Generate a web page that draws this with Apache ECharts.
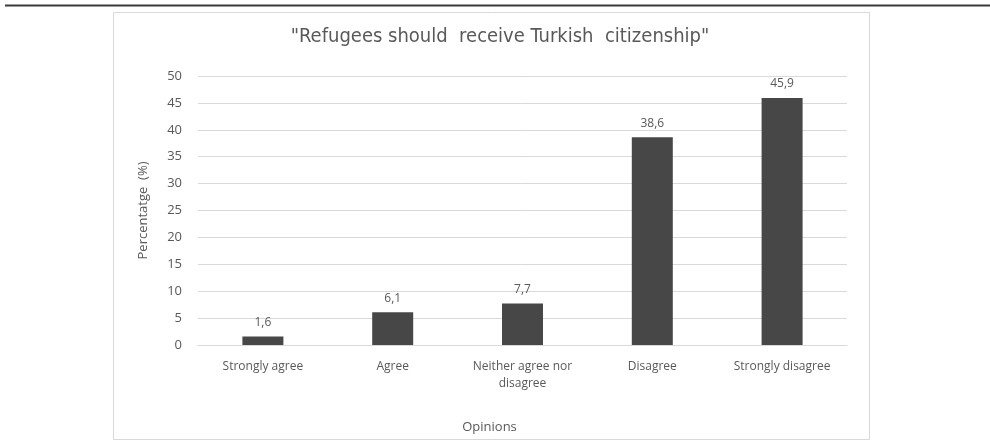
<!DOCTYPE html>
<html>
<head>
<meta charset="utf-8">
<script src="https://cdn.jsdelivr.net/npm/echarts@6/dist/echarts.min.js"></script>
<style>
  html, body { margin: 0; padding: 0; background: #fff; }
  #chart { width: 990px; height: 441px; }
</style>
</head>
<body>
<div id="chart"></div>
<script>
// 数据
const categories = ["Strongly agree", "Agree", "Neither agree nor\ndisagree", "Disagree", "Strongly disagree"];
const values = [1.6, 6.1, 7.7, 38.6, 45.9];

(function () {
	let myChart = echarts.init(document.getElementById('chart'))
	const textColor = '#595959'
	const option = {
		backgroundColor: '#fff',
		title: {
			text: '"Refugees should  receive Turkish  citizenship"',
			left: 495,
			textAlign: 'center',
			top: 22,
			textStyle: {
				fontFamily: 'DejaVu Sans Condensed',
				fontWeight: 'normal',
				fontSize: 20,
				color: textColor
			}
		},
		graphic: [
			// 顶部的黑线
			{ type: 'line', shape: { x1: 5, y1: 5.5, x2: 990, y2: 5.5 }, style: { stroke: '#3a3a3a', lineWidth: 2 } },
			// 图表外框
			{ type: 'rect', shape: { x: 113.5, y: 12.5, width: 756, height: 427 }, style: { fill: 'none', stroke: '#d9d9d9', lineWidth: 1 } }
		],
		grid: {
			left: 198,
			right: 143,
			top: 76,
			bottom: 96
		},
		xAxis: {
			type: 'category',
			data: categories,
			name: 'Opinions',
			nameLocation: 'middle',
			nameGap: 76,
			nameTextStyle: { color: textColor, fontSize: 13, fontFamily: 'Open Sans', padding: [0, 66, 0, 0] },
			axisTick: { show: false },
			axisLine: { lineStyle: { color: '#d9d9d9' } },
			axisLabel: {
				color: textColor,
				fontSize: 12,
				fontFamily: 'Open Sans',
				margin: 13,
				interval: 0,
				lineHeight: 17
			}
		},
		yAxis: {
			type: 'value',
			min: 0,
			max: 50,
			interval: 5,
			name: 'Percentatge  (%)',
			nameLocation: 'middle',
			nameGap: 48,
			nameTextStyle: { color: textColor, fontSize: 13, fontFamily: 'Open Sans' },
			axisLine: { show: false },
			axisTick: { show: false },
			axisLabel: { color: textColor, fontSize: 13, fontFamily: 'Open Sans', margin: 16 },
			splitLine: { lineStyle: { color: '#d9d9d9' } }
		},
		series: [
			{
				type: 'bar',
				data: values,
				barWidth: 41,
				itemStyle: { color: '#474747' },
				label: {
					show: true,
					position: 'top',
					distance: 8,
					color: textColor,
					fontSize: 12,
					fontFamily: 'Open Sans',
					formatter: function (p) { return String(p.value).replace('.', ',') }
				}
			}
		]
	}
	myChart.setOption(option)
})();
</script>
</body>
</html>
